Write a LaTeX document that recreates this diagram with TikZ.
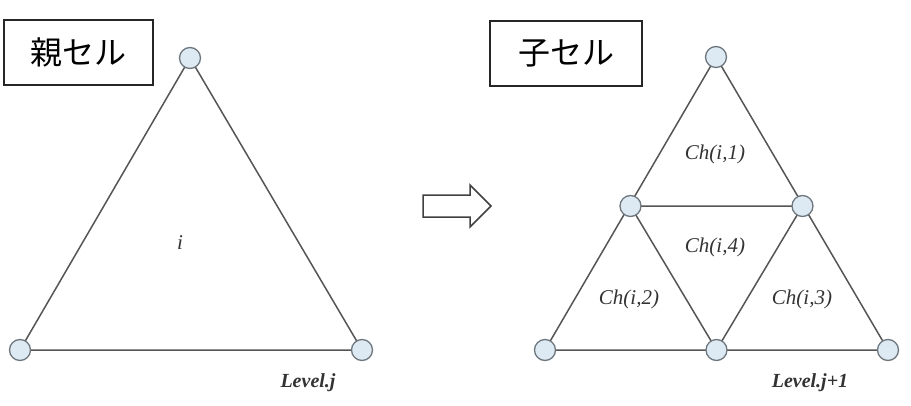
\documentclass[tikz,border=0pt]{standalone}
\usepackage{fontspec}
\setmainfont{Liberation Serif}
\newfontfamily\cjk{Noto Sans CJK JP}
\definecolor{vfill}{HTML}{DDE9F3}
\definecolor{vdraw}{HTML}{6E777D}
\definecolor{edge}{HTML}{555555}
\begin{document}
\begin{tikzpicture}[x=1pt,y=-1pt,
  vert/.style={circle,draw=vdraw,fill=vfill,line width=1.3pt,minimum size=21pt,inner sep=0pt},
  edgeline/.style={draw=edge,line width=1.5pt},
  titlebox/.style={draw=black!85,line width=2pt,minimum width=149pt,minimum height=65pt,inner sep=0pt,font=\cjk\fontsize{32}{34}\selectfont},
  lab/.style={font=\itshape\fontsize{21}{23}\selectfont,text=black!80},
  lvl/.style={font=\bfseries\itshape\fontsize{20}{22}\selectfont,text=black!80},
  bigarrow/.style={draw=black!75,line width=1.5pt,line join=miter,fill=white}]
\useasboundingbox (0,0) rectangle (911,405);
% left
\coordinate (pt) at (190,58);
\coordinate (pl) at (20,350);
\coordinate (pr) at (362,350);
\draw[edgeline] (pt) -- (pl) -- (pr) -- cycle;
\node[vert] (v1) at (pt) {};
\node[vert] (v2) at (pl) {};
\node[vert] (v3) at (pr) {};
\node[titlebox] (b1) at (78.5,52.5) {親セル};
\node[lab] (li) at (180,243) {i};
\node[lvl] (l1) at (308,383) {Level.j};
% arrow
\draw[bigarrow] (423,195) -- (470,195) -- (470,185) -- (491,206) -- (470,227) -- (470,217) -- (423,217) -- cycle;
% right
\coordinate (ct) at (716,57);
\coordinate (cl) at (545,350);
\coordinate (cr) at (888,350);
\coordinate (ml) at (630.5,206);
\coordinate (mr) at (802.5,206);
\coordinate (mb) at (716.5,350);
\draw[edgeline] (ct) -- (cl) -- (cr) -- cycle;
\draw[edgeline] (ml) -- (mr) -- (mb) -- cycle;
\node[vert] (c1) at (ct) {};
\node[vert] (c2) at (cl) {};
\node[vert] (c3) at (cr) {};
\node[vert] (c4) at (ml) {};
\node[vert] (c5) at (mr) {};
\node[vert] (c6) at (mb) {};
\node[titlebox,minimum width=152pt] (b2) at (566,53) {子セル};
\node[lab] (ch1) at (715,154) {Ch(i,1)};
\node[lab] (ch4) at (715,247) {Ch(i,4)};
\node[lab] (ch2) at (629,299) {Ch(i,2)};
\node[lab] (ch3) at (802,299) {Ch(i,3)};
\node[lvl] (l2) at (810,383) {Level.j+1};
\end{tikzpicture}
\end{document}
